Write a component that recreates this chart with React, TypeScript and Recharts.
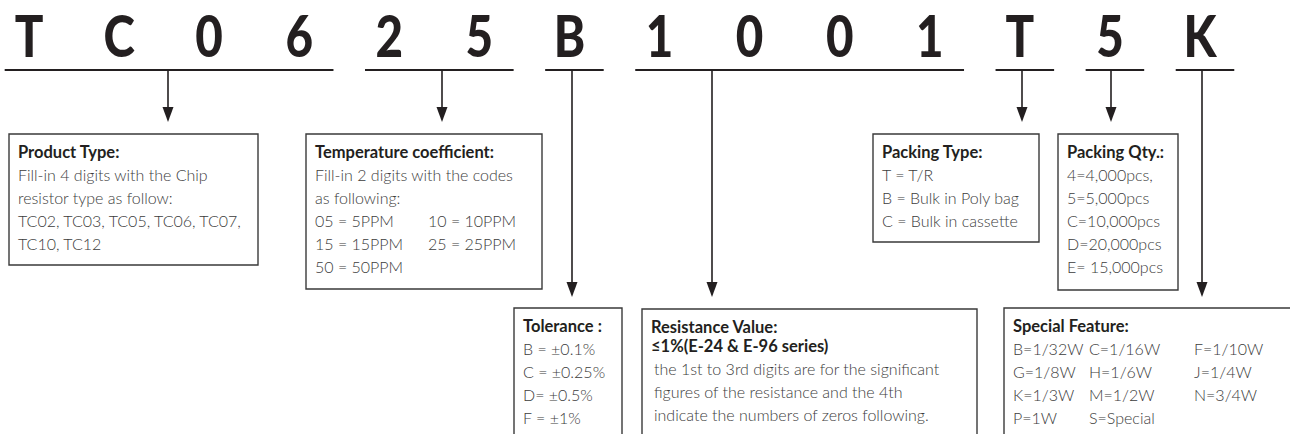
import { ComposedChart, Scatter, XAxis, YAxis, ReferenceLine, ReferenceArea } from "recharts";

const WIDTH = 1290;
const HEIGHT = 434;

// part number, one character per slot
const characters = ["T", "C", "0", "6", "2", "5", "B", "1", "0", "0", "1", "T", "5", "K"];

// which characters each field covers [first, last]
const fieldSpans = [[0, 3], [4, 5], [6, 6], [7, 10], [11, 11], [12, 12], [13, 13]];

const fieldTitles = [
  ["Product Type:"],
  ["Temperature coefficient:"],
  ["Tolerance :"],
  ["Resistance Value:", "≤1%(E-24 & E-96 series)"],
  ["Packing Type:"],
  ["Packing Qty.:"],
  ["Special Feature:"],
];

const fieldLines = [
  ["Fill-in 4 digits with the Chip", "resistor type as follow:", "TC02, TC03, TC05, TC06, TC07,", "TC10, TC12"],
  ["Fill-in 2 digits with the codes", "as following:", ["05 = 5PPM", "10 = 10PPM"], ["15 = 15PPM", "25 = 25PPM"], ["50 = 50PPM"]],
  ["B = ±0.1%", "C = ±0.25%", "D= ±0.5%", "F = ±1%"],
  ["the 1st to 3rd digits are for the significant", "figures of the resistance and the 4th", "indicate the numbers of zeros following."],
  ["T = T/R", "B = Bulk in Poly bag", "C = Bulk in cassette"],
  ["4=4,000pcs,", "5=5,000pcs", "C=10,000pcs", "D=20,000pcs", "E= 15,000pcs"],
  [["B=1/32W", "C=1/16W", "F=1/10W"], ["G=1/8W", "H=1/6W", "J=1/4W"], ["K=1/3W", "M=1/2W", "N=3/4W"], ["P=1W", "S=Special"]],
];

// drawing layout (pixels), kept apart from the values above
const FIRST_CHAR_X = 29;
const CHAR_PITCH = 90.08;
const CHAR_BASE_Y = 57;
const RULE_Y = 70;
const RULE_PAD = [0.27, 0.38];
const fieldLayout = [
  { stem: 168, tip: 122, box: [9, 258, 134, 265], cols: [0], indent: 0 },
  { stem: 442, tip: 122, box: [306, 542, 134, 289], cols: [0, 113], indent: 0 },
  { stem: 572, tip: 297, box: [514, 622, 308, 445], cols: [0], indent: 0 },
  { stem: 712, tip: 297, box: [642, 977, 309, 445], cols: [0], indent: 3 },
  { stem: 1022, tip: 122, box: [873, 1039, 134, 242], cols: [0], indent: 0 },
  { stem: 1111, tip: 122, box: [1058, 1178, 134, 290], cols: [0], indent: 0 },
  { stem: 1202, tip: 297, box: [1004, 1300, 308, 445], cols: [0, 76, 181], indent: 0 },
];

// pixel layout -> character-slot units of the x axis
const slot = (px: number) => (px - FIRST_CHAR_X) / CHAR_PITCH;

const INK = "#231f20";
const BODY = "#3c3c3c";
const FONT = "Lato, 'Open Sans', sans-serif";

const charData = characters.map((ch, i) => ({ i, y: CHAR_BASE_Y, ch }));

function CharShape(props: any) {
  const { cx, cy, payload } = props;
  return (
    <text
      transform={`translate(${cx},${cy}) scale(0.82,1)`}
      textAnchor="middle"
      fontFamily={FONT}
      fontWeight={900}
      fontSize={58}
      fill={INK}
    >
      {payload.ch}
    </text>
  );
}

function Arrow(props: any) {
  const { x1, y1, x2, y2 } = props;
  return (
    <g>
      <line x1={x1} y1={y1} x2={x2} y2={y2 - 12} stroke={INK} strokeWidth={1.6} />
      <path d={`M${x2 - 5.5},${y2 - 15} L${x2 + 5.5},${y2 - 15} L${x2},${y2} Z`} fill={INK} />
    </g>
  );
}

function BoxText(props: any) {
  const { viewBox, titles, lines, cols, indent } = props;
  const left = viewBox.x + 9;
  const top = viewBox.y + 24;
  const bodyTop = top + (titles.length - 1) * 19;
  return (
    <g fontFamily={FONT}>
      {titles.map((t: string, k: number) => (
        <text key={`t${k}`} x={left} y={top + k * 19} fontSize={16.5} fontWeight={700} fill={INK}>
          {t}
        </text>
      ))}
      {lines.map((row: string | string[], r: number) => {
        const cells = Array.isArray(row) ? row : [row];
        return cells.map((c, j) => (
          <text key={`l${r}-${j}`} x={left + cols[j] + indent} y={bodyTop + (r + 1) * 23} fontSize={16} fontWeight={300} fill={BODY}>
            {c}
          </text>
        ));
      })}
    </g>
  );
}

export default function App() {
  return (
    <div style={{ position: "absolute", left: 0, top: 0, width: WIDTH, height: HEIGHT, background: "#fff" }}>
      <ComposedChart width={WIDTH} height={HEIGHT} data={charData} margin={{ top: 0, right: 0, bottom: 0, left: 0 }}>
        <XAxis dataKey="i" type="number" domain={[slot(0), slot(WIDTH)]} hide allowDataOverflow />
        <YAxis dataKey="y" type="number" domain={[0, HEIGHT]} reversed hide allowDataOverflow />

        {fieldSpans.map(([a, b], k) => (
          <ReferenceLine
            key={`rule${k}`}
            segment={[{ x: a - RULE_PAD[0], y: RULE_Y }, { x: b + RULE_PAD[1], y: RULE_Y }]}
            stroke={INK}
            strokeWidth={2}
            ifOverflow="visible"
          />
        ))}

        {fieldLayout.map((f, k) => (
          <ReferenceLine
            key={`arrow${k}`}
            segment={[{ x: slot(f.stem), y: RULE_Y }, { x: slot(f.stem), y: f.tip }]}
            ifOverflow="visible"
            shape={(p: any) => <Arrow {...p} />}
          />
        ))}

        {fieldLayout.map((f, k) => (
          <ReferenceArea
            key={`box${k}`}
            x1={slot(f.box[0])}
            x2={slot(f.box[1])}
            y1={f.box[2]}
            y2={f.box[3]}
            fill="#fff"
            fillOpacity={1}
            stroke="#3a3a3a"
            strokeWidth={1.4}
            ifOverflow="visible"
            label={(p: any) => (
              <BoxText viewBox={p.viewBox} titles={fieldTitles[k]} lines={fieldLines[k]} cols={f.cols} indent={f.indent} />
            )}
          />
        ))}

        <Scatter data={charData} isAnimationActive={false} shape={(p: any) => <CharShape {...p} />} />
      </ComposedChart>
    </div>
  );
}
